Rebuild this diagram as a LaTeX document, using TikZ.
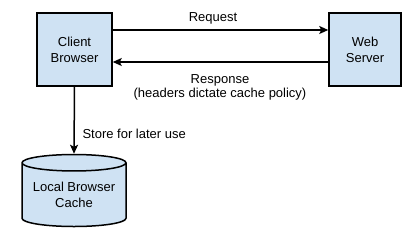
\documentclass[tikz,border=0pt]{standalone}
\usepackage{fontspec}
\setmainfont{Liberation Sans}
\usetikzlibrary{arrows.meta,shapes.geometric}
\definecolor{boxfill}{HTML}{CFE2F3}
\tikzset{
  box/.style={draw, line width=1.5pt, fill=boxfill, align=center, font=\fontsize{13}{16}\selectfont},
  lbl/.style={align=center, font=\fontsize{13}{14.5}\selectfont},
  conn/.style={line width=1.5pt, -{Stealth[length=9pt,width=8pt,inset=2pt]}},
}
\begin{document}
\begin{tikzpicture}[x=1pt,y=1pt]
\useasboundingbox (0,0) rectangle (419,249);
\node[box, minimum width=75pt, minimum height=73pt] (client) at (74.5,199.5) {Client\\Browser};
\node[box, minimum width=72pt, minimum height=73pt] (server) at (365,199.5) {Web\\Server};
\node[box, cylinder, shape border rotate=90, aspect=0.2, minimum width=104pt, minimum height=72pt, inner sep=0pt] (cache) at (74,54) {Local Browser\\Cache};
\coordinate (reqA) at (client.east |- 0,219);
\coordinate (reqB) at (server.west |- 0,219);
\coordinate (resA) at (server.west |- 0,187);
\coordinate (resB) at (client.east |- 0,187);
\draw[conn] (reqA) -- (reqB);
\node[lbl] (req) at (213,231) {Request};
\draw[conn] (resA) -- (resB);
\node[lbl] (resp) at (220,161.5) {Response\\(headers dictate cache policy)};
\draw[conn] (client.south) -- (cache.top);
\node[lbl, anchor=west] (store) at (79,115) {Store for later use};
\end{tikzpicture}
\end{document}
